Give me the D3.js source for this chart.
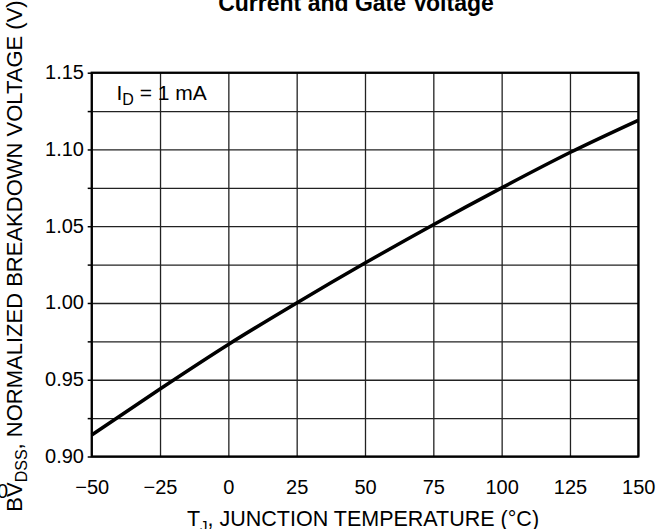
<!DOCTYPE html>
<html><head><meta charset="utf-8">
<script src="https://cdn.jsdelivr.net/npm/d3@7"></script>
<style>
body{margin:0;background:#fff}
svg text{font-family:"Liberation Sans",Arial,Helvetica,sans-serif;fill:#000}
</style>
</head><body>
<svg id="c" width="669" height="529"></svg>
<script>
// Data
const temps = [-50, -25, 0, 25, 50, 75, 100, 125, 150];
const bvdss = [0.914, 0.944, 0.973, 1.000, 1.026, 1.051, 1.075, 1.098, 1.119];
const xTicks = [-50, -25, 0, 25, 50, 75, 100, 125, 150];
const yTickLabels = [0.90, 0.95, 1.00, 1.05, 1.10, 1.15];
const yGridValues = [0.90, 0.925, 0.95, 0.975, 1.00, 1.025, 1.05, 1.075, 1.10, 1.125, 1.15];

const svg = d3.select("#c");
const L = 91.7, R = 638.3, T = 72.7, B = 456.5;
const x = d3.scaleLinear().domain([-50, 150]).range([L, R]);
const y = d3.scaleLinear().domain([0.90, 1.15]).range([B, T]);

// grid
const g = svg.append("g");
g.append("g").attr("transform", `translate(0,${B})`)
  .call(d3.axisBottom(x).tickValues(xTicks).tickSize(-(B - T)).tickFormat(""))
  .call(a => a.select(".domain").remove())
  .call(a => a.selectAll("line").attr("stroke", "#222").attr("stroke-width", 1.3));
g.append("g").attr("transform", `translate(${L},0)`)
  .call(d3.axisLeft(y).tickValues(yGridValues).tickSize(-(R - L)).tickFormat(""))
  .call(a => a.select(".domain").remove())
  .call(a => a.selectAll("line").attr("stroke", "#222").attr("stroke-width", 1.3));

// left outward ticks
g.append("g").attr("transform", `translate(${L},0)`)
  .call(d3.axisLeft(y).tickValues(yGridValues).tickSize(4).tickFormat(""))
  .call(a => a.select(".domain").remove())
  .call(a => a.selectAll("line").attr("stroke", "#000").attr("stroke-width", 1.5));

// border
svg.append("rect").attr("x", L).attr("y", T).attr("width", R - L).attr("height", B - T)
  .attr("fill", "none").attr("stroke", "#000").attr("stroke-width", 2.2);

// y tick labels
const ya = svg.append("g").attr("transform", `translate(84,0)`)
  .call(d3.axisLeft(y).tickValues(yTickLabels).tickSize(0).tickPadding(0).tickFormat(d3.format(".2f")));
ya.select(".domain").remove();
ya.selectAll("text").attr("font-size", 20).attr("dy", "0.3em")
  .style("font-family", '"Liberation Sans",Arial,sans-serif');

// x tick labels
const xa = svg.append("g").attr("transform", `translate(0,480)`)
  .call(d3.axisBottom(x).tickValues(xTicks).tickSize(0).tickPadding(0).tickFormat(d3.format("d")));
xa.select(".domain").remove();
xa.selectAll("text").attr("font-size", 20).attr("dy", "0.71em")
  .style("font-family", '"Liberation Sans",Arial,sans-serif');

// curve
const line = d3.line().x((d, i) => x(temps[i])).y(d => y(d)).curve(d3.curveMonotoneX);
svg.append("path").datum(bvdss).attr("d", line)
  .attr("fill", "none").attr("stroke", "#000").attr("stroke-width", 3.5).attr("stroke-linecap", "butt");

// title (cropped at top, as in the reference)
svg.append("text").attr("x", 356).attr("y", 11).attr("text-anchor", "middle")
  .attr("font-size", 23).attr("font-weight", "bold").text("Current and Gate Voltage");

// inset label
const lab = svg.append("text").attr("x", 116.5).attr("y", 100).attr("font-size", 21);
lab.append("tspan").text("I");
lab.append("tspan").attr("font-size", 16).attr("dy", 5).text("D");
lab.append("tspan").attr("dy", -5).text(" = 1 mA");

// x axis title
const xt = svg.append("text").attr("x", 363).attr("y", 526).attr("text-anchor", "middle").attr("font-size", 21.5);
xt.append("tspan").text("T");
xt.append("tspan").attr("font-size", 15).attr("dy", 5).text("J");
xt.append("tspan").attr("dy", -5).text(", JUNCTION TEMPERATURE (°C)");

// y axis title
const yt = svg.append("text").attr("transform", "translate(22,256) rotate(-90)")
  .attr("text-anchor", "middle").attr("font-size", 22);
yt.append("tspan").text("BV");
yt.append("tspan").attr("font-size", 16).attr("dy", 5).text("DSS");
yt.append("tspan").attr("dy", -5).text(", NORMALIZED BREAKDOWN VOLTAGE (V)");

// clipped stray glyph at left edge
svg.append("text").attr("x", 8).attr("y", 498).attr("text-anchor", "end").attr("font-size", 20).text("0");
</script>
</body></html>
